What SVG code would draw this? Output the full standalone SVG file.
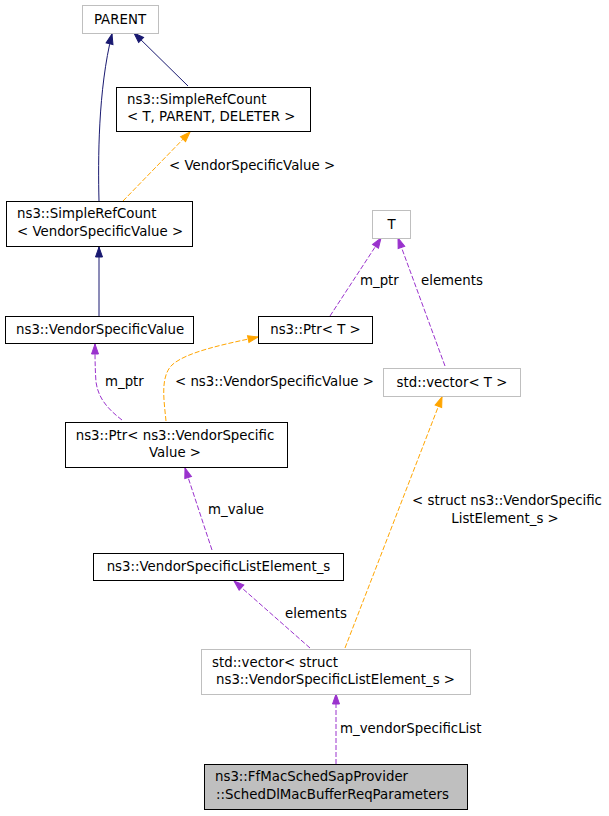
<svg xmlns="http://www.w3.org/2000/svg" width="609" height="816" viewBox="0 0 609 816">
<style>
text{font-family:"DejaVu Sans","Liberation Sans",sans-serif;font-size:13.33px;fill:#000}
.n{fill:#fff;stroke:#000;stroke-width:1}
.u{fill:#fff;stroke:#bfbfbf;stroke-width:1}
.r{fill:#bfbfbf;stroke:#000;stroke-width:1}
.e{fill:none;stroke-width:1}
.nv{stroke:#191970}
.og{stroke:#ffa500;stroke-dasharray:5,2}
.pu{stroke:#9a32cd;stroke-dasharray:5,2}
.m{text-anchor:middle}
</style>
<defs>
<marker id="aN" markerUnits="userSpaceOnUse" markerWidth="12" markerHeight="10" refX="0" refY="0" orient="auto" overflow="visible"><path d="M-10,-3.5 L0,0 L-10,3.5 Z" fill="#191970" stroke="#191970"/></marker>
<marker id="aO" markerUnits="userSpaceOnUse" markerWidth="12" markerHeight="10" refX="0" refY="0" orient="auto" overflow="visible"><path d="M-10,-3.5 L0,0 L-10,3.5 Z" fill="#ffa500" stroke="#ffa500"/></marker>
<marker id="aP" markerUnits="userSpaceOnUse" markerWidth="12" markerHeight="10" refX="0" refY="0" orient="auto" overflow="visible"><path d="M-10,-3.5 L0,0 L-10,3.5 Z" fill="#9a32cd" stroke="#9a32cd"/></marker>
</defs>
<g id="edges">
<path class="e nv" d="M99,201 C98,160 98,90 112,34" marker-end="url(#aN)"/>
<path class="e nv" d="M188,86 L134,33" marker-end="url(#aN)"/>
<path class="e og" d="M123,201 L190,132" marker-end="url(#aO)"/>
<path class="e nv" d="M99,316 L99,247" marker-end="url(#aN)"/>
<path class="e pu" d="M122,420 C105,407 98,396 96,382 C95,368 95,356 95,344" marker-end="url(#aP)"/>
<path class="e og" d="M166,421 C164,400 160,377 172,365 C186,352 225,344 258,337" marker-end="url(#aO)"/>
<path class="e pu" d="M330,316 L381,238" marker-end="url(#aP)"/>
<path class="e pu" d="M445,366 L398,238" marker-end="url(#aP)"/>
<path class="e pu" d="M212,550 L185,468" marker-end="url(#aP)"/>
<path class="e pu" d="M310,648 L234,581" marker-end="url(#aP)"/>
<path class="e og" d="M345,648 L442,397" marker-end="url(#aO)"/>
<path class="e pu" d="M336,764 L336,694" marker-end="url(#aP)"/>
<text x="169" y="170">&lt; VendorSpecificValue &gt;</text>
<text x="360" y="285">m_ptr</text>
<text x="421" y="285">elements</text>
<text x="105" y="386">m_ptr</text>
<text x="175" y="386">&lt; ns3::VendorSpecificValue &gt;</text>
<text x="208" y="514">m_value</text>
<text x="507" y="505" class="m">&lt; struct ns3::VendorSpecific</text>
<text x="505" y="523" class="m">ListElement_s &gt;</text>
<text x="285" y="618">elements</text>
<text x="340" y="733">m_vendorSpecificList</text>
</g>
<g id="parent"><rect class="u" x="82.5" y="5.5" width="76" height="28"/><text x="120" y="24" class="m">PARENT</text></g>
<g id="srcTPD"><rect class="n" x="116.5" y="87.5" width="194" height="44"/><text x="127" y="104">ns3::SimpleRefCount</text><text x="127" y="121">&lt; T, PARENT, DELETER &gt;</text></g>
<g id="srcVSV"><rect class="n" x="6.5" y="201.5" width="186" height="45"/><text x="17" y="218">ns3::SimpleRefCount</text><text x="17" y="236">&lt; VendorSpecificValue &gt;</text></g>
<g id="vsv"><rect class="n" x="5.5" y="316.5" width="188" height="27"/><text x="16" y="334">ns3::VendorSpecificValue</text></g>
<g id="ptrT"><rect class="n" x="258.5" y="316.5" width="114" height="27"/><text x="315.5" y="334" class="m">ns3::Ptr&lt; T &gt;</text></g>
<g id="tnode"><rect class="u" x="372.5" y="210.5" width="38" height="28"/><text x="391.5" y="229" class="m">T</text></g>
<g id="vecT"><rect class="u" x="383.5" y="368.5" width="137" height="28"/><text x="452" y="387" class="m">std::vector&lt; T &gt;</text></g>
<g id="ptrVSV"><rect class="n" x="65.5" y="422.5" width="222" height="45"/><text x="175" y="440" class="m">ns3::Ptr&lt; ns3::VendorSpecific</text><text x="175" y="457" class="m">Value &gt;</text></g>
<g id="vsle"><rect class="n" x="93.5" y="553.5" width="250" height="27"/><text x="218.5" y="571" class="m">ns3::VendorSpecificListElement_s</text></g>
<g id="vecS"><rect class="u" x="201.5" y="649.5" width="269" height="45"/><text x="212" y="667">std::vector&lt; struct</text><text x="216" y="684">ns3::VendorSpecificListElement_s &gt;</text></g>
<g id="root"><rect class="r" x="204.5" y="764.5" width="263" height="45"/><text x="215" y="781">ns3::FfMacSchedSapProvider</text><text x="216" y="799">::SchedDlMacBufferReqParameters</text></g>
</svg>
